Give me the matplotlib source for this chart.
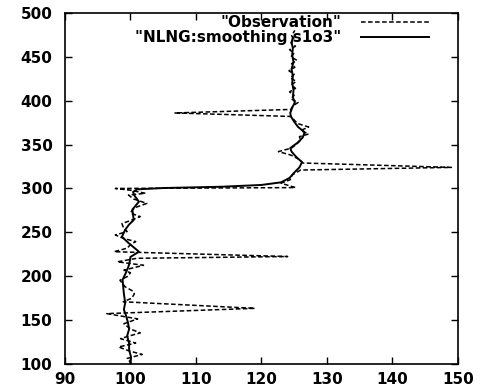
import numpy as np
import matplotlib.pyplot as plt

# observed profile: depth vs value
obs_depth = [100, 103, 106.5, 111, 115, 119.5, 124, 129, 132, 135.5, 140, 146,
             151.5, 157.5, 163.5, 171, 175, 180, 183, 188, 195.5, 200, 204, 207,
             212.5, 216.5, 220.5, 222.5, 228, 232, 236, 239.5, 243, 247, 251, 254,
             260, 264, 268, 272, 275.5, 279, 283, 288, 292.5, 294.5, 298, 300,
             301, 306, 310, 315.5, 321, 324, 329, 333, 338, 342, 346, 350, 355,
             359, 362, 366, 370, 374, 378, 382, 386, 390, 394, 398, 402, 406,
             410, 414, 418, 422, 426, 430, 434, 438, 442, 446, 450, 454, 458,
             462, 466, 470, 474, 480]
obs_value = [100.2, 99.9, 99.5, 101.8, 99.8, 98.2, 100.8, 98.5, 99.8, 101.5, 100.0, 99.0,
             101.1, 96.4, 119.0, 98.9, 100.2, 100.6, 100.4, 99.2, 98.4, 99.6, 100.0, 99.0,
             102.0, 98.0, 101.0, 124.0, 97.5, 99.5, 100.0, 100.8, 99.0, 97.7, 99.5, 99.0,
             98.7, 100.2, 101.5, 100.0, 100.3, 101.0, 102.5, 100.5, 99.7, 102.3, 100.0, 97.7,
             125.2, 123.0, 124.4, 124.7, 126.0, 149.0, 126.3, 125.8, 124.5, 122.6, 124.6, 125.3, 126.0,
             125.8, 127.2, 126.0, 127.2, 125.5, 125.0, 124.5, 106.8, 124.5, 124.8, 125.6, 124.5, 125.0,
             124.3, 125.2, 124.6, 125.3, 124.4, 125.0, 124.2, 125.1, 124.6, 125.4, 124.5, 125.0, 124.3,
             125.2, 124.5, 125.0, 124.6, 125.1]

# NLNG smoothed profile
smo_depth = [100, 108, 116, 124, 132, 140, 148, 156, 162, 170, 180, 188, 196,
             204, 211, 217, 222, 228, 233, 238, 245, 253, 259, 264, 270, 276,
             285, 292, 296, 299, 300.5, 302, 304, 307, 312, 318, 324, 330, 336,
             342, 346, 352, 358, 364, 370, 376, 382, 386, 392, 398, 404, 412,
             420, 428, 436, 444, 452, 460, 466, 472]
smo_value = [100.0, 100.1, 99.8, 99.8, 99.5, 99.8, 99.6, 99.3, 99.0, 99.2, 99.0, 98.9, 98.8,
             99.3, 99.7, 99.9, 100.0, 101.3, 100.5, 99.7, 98.7, 99.2, 99.8, 100.5, 100.4, 100.3,
             101.3, 100.6, 100.4, 101.0, 105.0, 114.0, 120.0, 123.0, 124.3, 125.0, 125.8, 126.2, 125.3,
             124.6, 124.4, 125.5, 126.3, 126.6, 125.6, 125.0, 124.5, 124.4, 124.7, 125.1, 124.8, 124.9,
             124.7, 124.8, 124.6, 124.9, 124.7, 124.8, 124.6, 124.8]

xticks = [90, 100, 110, 120, 130, 140, 150]
yticks = [100, 150, 200, 250, 300, 350, 400, 450, 500]

plt.rcParams['font.family'] = ['DejaVu Sans']

fig = plt.figure(figsize=(4.81, 3.89), dpi=100)
ax = fig.add_axes([0.135, 0.064, 0.817, 0.903])

ax.plot(obs_value, obs_depth, color='black', lw=1.1, ls=(0, (3, 1.6)),
        label='"Observation"')
ax.plot(smo_value, smo_depth, color='black', lw=1.4, ls='-',
        label='"NLNG:smoothing s1o3"')

ax.set_xlim(90, 150)
ax.set_ylim(100, 500)
ax.set_xticks(xticks)
ax.set_yticks(yticks)
ax.tick_params(direction='in', top=True, right=True, length=5, width=1,
               labelsize=11)
for lab in ax.get_xticklabels() + ax.get_yticklabels():
    lab.set_fontweight('bold')
ax.tick_params(axis='x', pad=6)
ax.tick_params(axis='y', pad=9)
for sp in ax.spines.values():
    sp.set_linewidth(1.2)

# gnuplot-style key: label on the left, line sample on the right
leg = ax.legend(loc='upper right', markerfirst=False, frameon=False,
                handlelength=4.4, fontsize=11, borderaxespad=0.1,
                labelspacing=0.0, handletextpad=1.3,
                bbox_to_anchor=(0.945, 1.015))
for t in leg.get_texts():
    t.set_fontweight('bold')

fig.savefig('out.png', dpi=100)
